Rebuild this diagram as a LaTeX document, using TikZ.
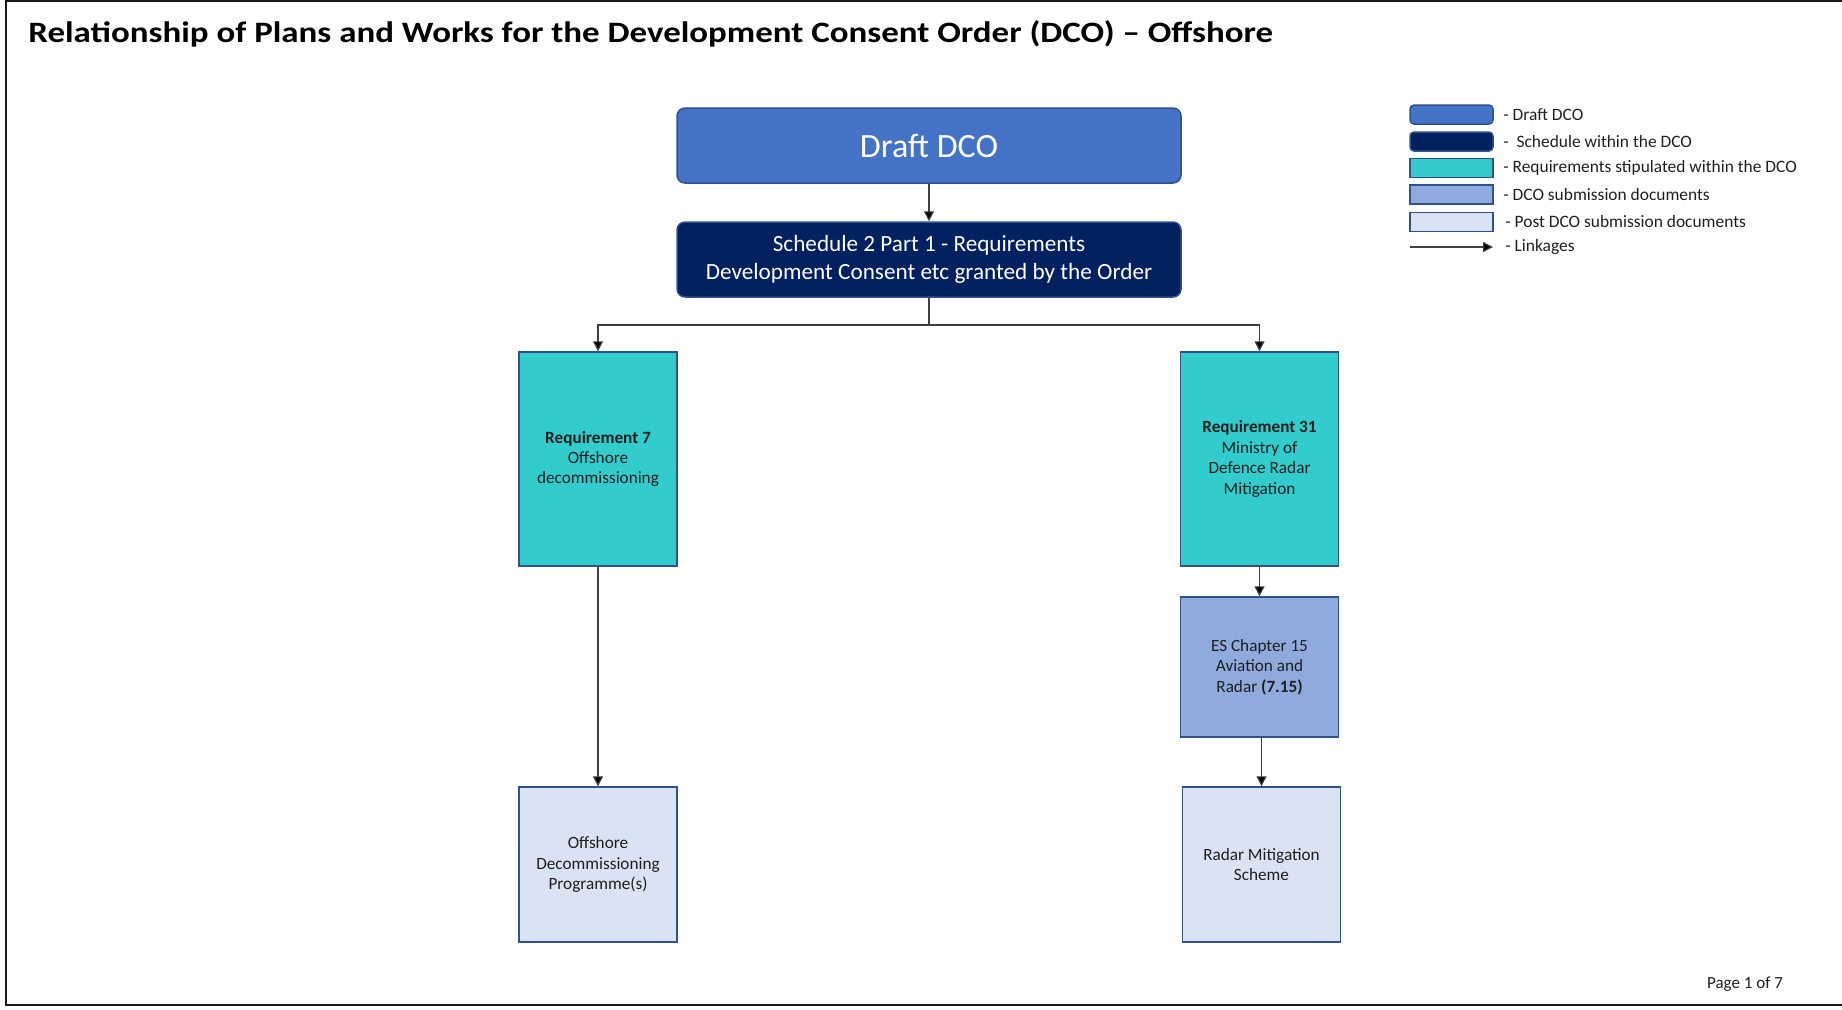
\documentclass[tikz,border=0pt]{standalone}
\usepackage{fontspec}
\setmainfont{Carlito}
\usetikzlibrary{arrows.meta}
\definecolor{draftc}{HTML}{4472C4}
\definecolor{schedc}{HTML}{002060}
\definecolor{reqc}{HTML}{33CCCC}
\definecolor{subc}{HTML}{8FAADC}
\definecolor{postc}{HTML}{DAE3F3}
\definecolor{edgec}{HTML}{2F528F}
\definecolor{txtc}{HTML}{1F1F1F}
\begin{document}
\begin{tikzpicture}[x=0.5pt,y=-0.5pt,
  box/.style={draw=edgec,line width=0.75pt,inner sep=0pt,align=center,text=txtc,font=\fontsize{8.6}{10.2}\selectfont},
  draftbox/.style={box,fill=draftc,rounded corners=4pt,text=white,minimum width=252pt,minimum height=37.5pt,font=\fontsize{17}{20}\selectfont},
  schedbox/.style={box,fill=schedc,rounded corners=4pt,text=white,minimum width=252pt,minimum height=37.5pt,font=\fontsize{11.6}{14}\selectfont},
  reqbox/.style={box,fill=reqc,minimum width=79pt,minimum height=107pt},
  subbox/.style={box,fill=subc,minimum width=79pt,minimum height=70pt},
  postbox/.style={box,fill=postc,minimum width=79pt,minimum height=77.5pt},
  legbox/.style={draw=edgec,line width=0.75pt,inner sep=0pt,minimum width=41.5pt,minimum height=9.5pt},
  legtxt/.style={anchor=west,inner sep=0pt,text=txtc,font=\fontsize{8.7}{10}\selectfont},
  link/.style={draw=black!75,line width=0.6pt,-{Triangle[length=5pt,width=5pt,fill=black]}}
]
\useasboundingbox (0,0) rectangle (1842,1009);
% frame
\draw[line width=1.1pt,black!90] (1842,1) -- (6,1) -- (6,1005) -- (1842,1005);
% title
\node[anchor=west,inner sep=0pt,font=\fontsize{14.8}{16}\selectfont\bfseries] (title) at (28,34) {\scalebox{1.18}[1]{Relationship of Plans and Works for the Development Consent Order (DCO) – Offshore}};
% main boxes
\node[draftbox] (draft) at (929,145.5) {Draft DCO};
\node[schedbox] (sched) at (929,259.5) {Schedule 2 Part 1 - Requirements\\Development Consent etc granted by the Order};
\node[reqbox] (req7) at (598,459) {\textbf{Requirement 7}\\Offshore\\decommissioning};
\node[reqbox] (req31) at (1259.5,459) {\textbf{Requirement 31}\\Ministry of\\Defence Radar\\Mitigation};
\node[subbox] (es) at (1259.5,667) {ES Chapter 15\\Aviation and\\Radar \textbf{(7.15)}};
\node[postbox] (offdec) at (598,864.5) {Offshore\\Decommissioning\\Programme(s)};
\node[postbox] (radar) at (1261.5,864.5) {Radar Mitigation\\Scheme};
% connectors
\coordinate (split) at (929,325);
\draw[link] (draft) -- (sched);
\draw[link] (sched.south) -- (split) -| (req7.north);
\draw[link] (split) -| (req31.north);
\draw[link] (req7) -- (offdec);
\draw[link] (req31) -- (es);
\draw[link] (es.south -| radar.north) -- (radar.north);
% legend
\node[legbox,fill=draftc,rounded corners=2pt] (l1) at (1451.5,114.5) {};
\node[legbox,fill=schedc,rounded corners=2pt] (l2) at (1451.5,141.5) {};
\node[legbox,fill=reqc] (l3) at (1451.5,168) {};
\node[legbox,fill=subc] (l4) at (1451.5,194.5) {};
\node[legbox,fill=postc] (l5) at (1451.5,222) {};
\coordinate (l6a) at (1410,247);
\coordinate (l6b) at (1493,247);
\draw[link] (l6a) -- (l6b);
\node[legtxt] (t1) at (1503,114.5) {- Draft DCO};
\node[legtxt] (t2) at (1503,141.5) {-\ \ Schedule within the DCO};
\node[legtxt] (t3) at (1503,168) {- Requirements stipulated within the DCO};
\node[legtxt] (t4) at (1503,194.5) {- DCO submission documents};
\node[legtxt] (t5) at (1505,222) {- Post DCO submission documents};
\node[legtxt] (t6) at (1505,247) {- Linkages};
% page number
\node[inner sep=0pt,text=txtc,font=\fontsize{8.5}{10}\selectfont] (page) at (1745,984) {Page 1 of 7};
\end{tikzpicture}
\end{document}
